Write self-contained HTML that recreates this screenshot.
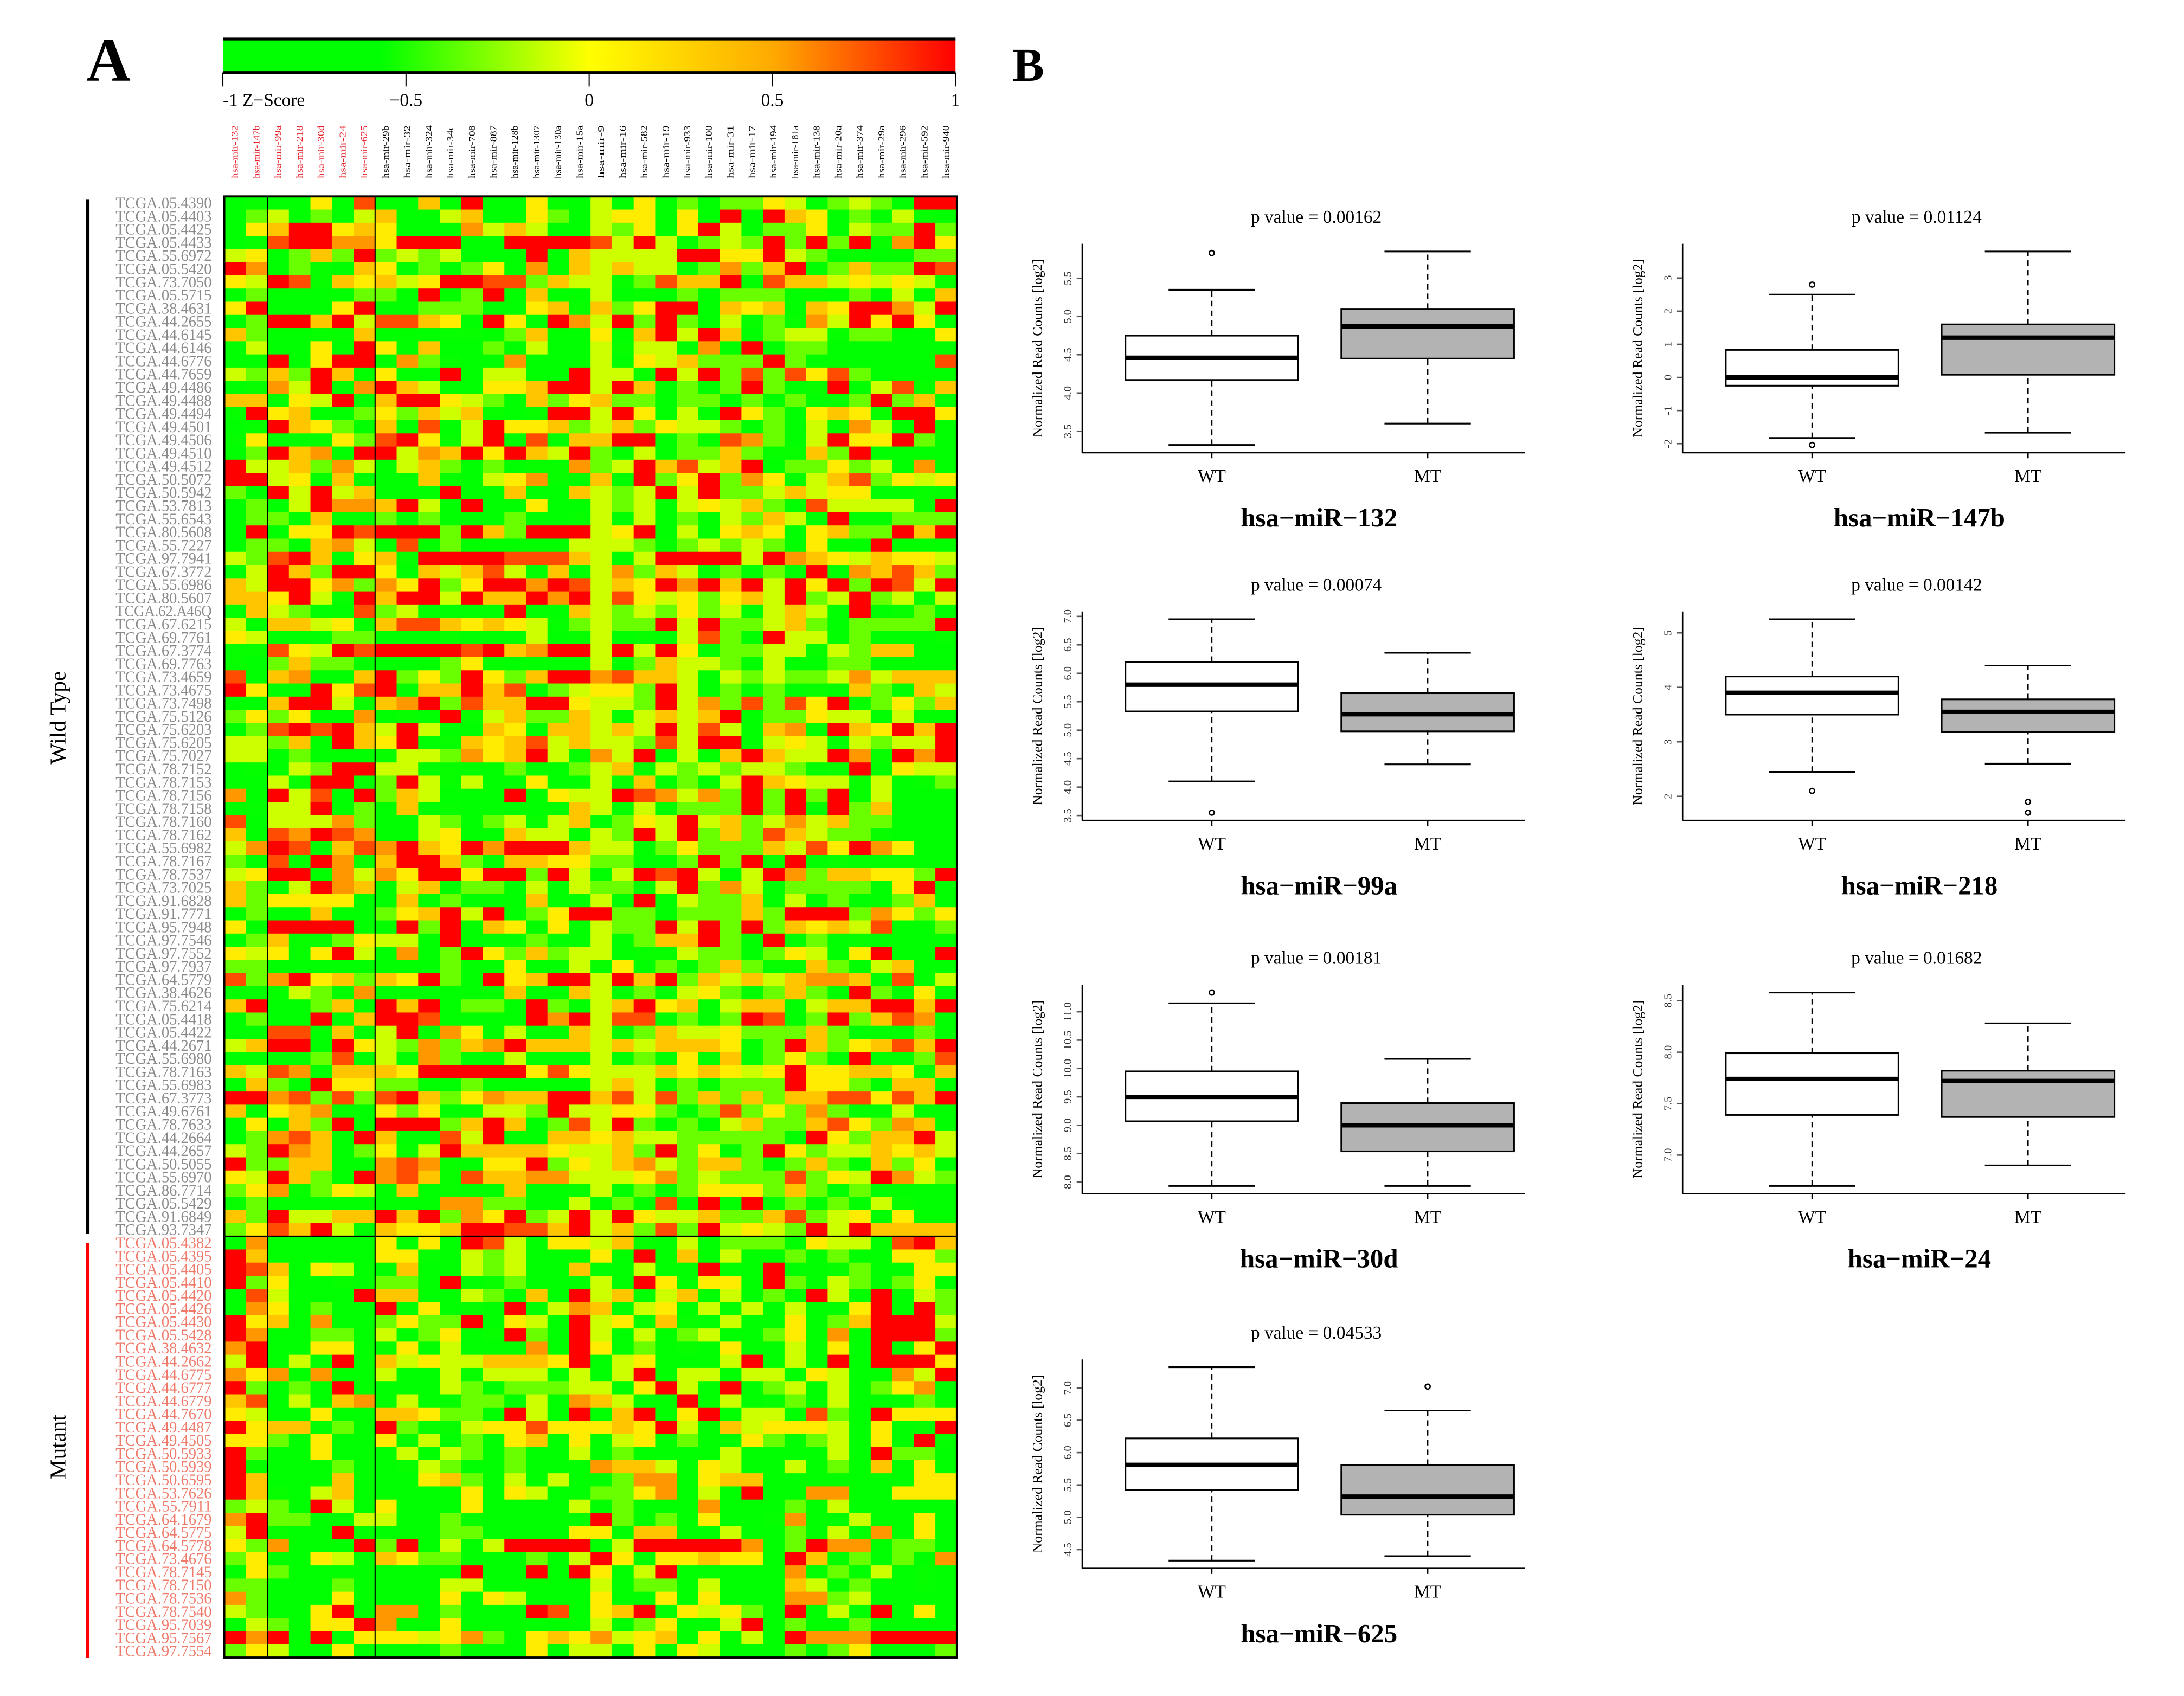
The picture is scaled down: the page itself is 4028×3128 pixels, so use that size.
<!DOCTYPE html>
<html><head><meta charset="utf-8"><style>
html,body{margin:0;padding:0;background:#fff}
svg{display:block;font-family:"Liberation Serif",serif}
</style></head><body>
<svg id="fig" xmlns="http://www.w3.org/2000/svg" width="4028" height="3128" viewBox="0 0 1568 1217.6">
<defs>
<linearGradient id="zg" x1="0" x2="1" y1="0" y2="0">
<stop offset="0" stop-color="#00ff00"/><stop offset="0.215" stop-color="#00ff00"/>
<stop offset="0.5" stop-color="#ffff00"/><stop offset="0.75" stop-color="#ffaa00"/>
<stop offset="1" stop-color="#ff0000"/>
</linearGradient>
</defs>
<rect width="1568" height="1217.6" fill="#fff"/>
<text x="62" y="58" font-size="44" font-weight="bold">A</text>
<text x="727" y="58" font-size="34" font-weight="bold">B</text>
<g id="cbar"></g>
<g id="heat"></g>
<g id="boxes"></g>
</svg>
<script>
const NS="http://www.w3.org/2000/svg";
// ---------- heatmap data ----------
const colLabels=["hsa-mir-132","hsa-mir-147b","hsa-mir-99a","hsa-mir-218","hsa-mir-30d","hsa-mir-24","hsa-mir-625","hsa-mir-29b","hsa-mir-32","hsa-mir-324","hsa-mir-34c","hsa-mir-708","hsa-mir-887","hsa-mir-128b","hsa-mir-1307","hsa-mir-130a","hsa-mir-15a","hsa-mir-9","hsa-mir-16","hsa-mir-582","hsa-mir-19","hsa-mir-933","hsa-mir-100","hsa-mir-31","hsa-mir-17","hsa-mir-194","hsa-mir-181a","hsa-mir-138","hsa-mir-20a","hsa-mir-374","hsa-mir-29a","hsa-mir-296","hsa-mir-592","hsa-mir-940"];
const redCols=7;
const wtLabels=["05.4390","05.4403","05.4425","05.4433","55.6972","05.5420","73.7050","05.5715","38.4631","44.2655","44.6145","44.6146","44.6776","44.7659","49.4486","49.4488","49.4494","49.4501","49.4506","49.4510","49.4512","50.5072","50.5942","53.7813","55.6543","80.5608","55.7227","97.7941","67.3772","55.6986","80.5607","62.A46Q","67.6215","69.7761","67.3774","69.7763","73.4659","73.4675","73.7498","75.5126","75.6203","75.6205","75.7027","78.7152","78.7153","78.7156","78.7158","78.7160","78.7162","55.6982","78.7167","78.7537","73.7025","91.6828","91.7771","95.7948","97.7546","97.7552","97.7937","64.5779","38.4626","75.6214","05.4418","05.4422","44.2671","55.6980","78.7163","55.6983","67.3773","49.6761","78.7633","44.2664","44.2657","50.5055","55.6970","86.7714","05.5429","91.6849","93.7347"];
const mtLabels=["05.4382","05.4395","05.4405","05.4410","05.4420","05.4426","05.4430","05.5428","38.4632","44.2662","44.6775","44.6777","44.6779","44.7670","49.4487","49.4505","50.5933","50.5939","50.6595","53.7626","55.7911","64.1679","64.5775","64.5778","73.4676","78.7145","78.7150","78.7536","78.7540","95.7039","95.7567","97.7554"];
// each char 0..9 -> z = -1 + c*2/9
const wtRows=[
"0200508006090052040503033540343099","0340304600460053045505090965030420","0569956510174640143505940335043393","0289977599910999984942343939392795",
"4503639343400090644449955943020033","9703206513035070646440373690363398","5498265645998836442386690866454542","0300003309139060040203033302130406",
"5900059003330056263599065606599749","0399694886509509749393042327495950","6300226000220360050694960344233005","0410509506103040042440709033010000",
"0090599073201710040546333930100008","4363960510904400944294938385831000","0274907964105569949603039302914826","6605490699543063563303303030239360",
"2956003536462029949504095305652995","0296530608149556346354430304074090","2501053895249081669903087304955930","0396709947695964930403363226390000",
"9446374046303122734968469033534070","9945060006204572060935937504683545",
"3094946000900600643494933464550020","0304977694190050043404546308444429","0330622303100300240403043640900333","0905598999396399945904056505633969",
"0330674080300000444323434305019000","4389605629999888640499994976546554","0496399506468406047364030309076863","6499573759359979846597969495939849",
"6659429699496697948545356493493424","0643008340110900643435340464090230","4166450688656542343394933463033339","5400033100200040240204830944030002",
"2285498999989679949495033442436601","2036330100352110040364430401330000","8067006935395369978664043433474666","9500958906696803455394030302063064",
"0069942679386699544394738385923536","3535007020924633642464691335440410","0389896494016506646494840670965969","4436096590265684644384990454043449",
"4403000244375694274904069644972979","0204399440200300346243434430290544","0042992394240050042603049654424023","7094809364100905449874739393924000",
"0244903060200000640403339392936000","8044473004303424603549463474633000","6087987004500644043949363864332000","4798068796597999644035333648597500",
"3080972699630665533003939290200000",
"4599074759959939404989404973665539","6304976046033040433049374033330590","6355550060300060040904336040300360",
"0300600356949035993303336399937535","5099990093906505043394939365648003","0362235440900030040366930903020000",
"5452594070395363440224330354059009","3300000000300500425030363226304600","8379563659309569949693646467760804",
"0224307100002600640304530363093150","6900360969133093146956046604669969","0300906998000097948803039803936870",
"0088060490750400640364453336300030","4699195437367966646466650396356869","0000380417300400040305060353090038",
"6487066659999958544465654595566506","0630955330130001046403033395530660","9978383896357669968483636366885869",
"6156700535004439445530383537301400","0506390999369603849303046336853760","0378609600849006656443333309536694",
"4397613524966665446393503953446564","9336600787205593546743663036316350","5496309786286677444573433383549743",
"3572354060210600240303555363030000","2300001000773300403080909030304200","6394466969375934949544633683450500",
"3586940655699886946383945439496666"];
const mtRows=[
"0700000505098405546204033305440896","9600000552043400050906040030300553","9860540060043400600400900900230055","9350020330902300040950550930430350",
"0840009660043060946046040309409043","0750300905020904760450404040059093","9560700353390540945062040050369994","9700330403502930940403400350709993",
"7900550250400070950302050040509059","4904090645446665904500049040909995","7570700400424440404904404405400749","9303090000430333440594090340403570",
"6804067040233040764009040230400030","5400500665330940906905904408309555","9566030932245585556594064555405029","5530500524030560504503005303405092",
"9300500040430300403000040000409330","9200030024300300076640540040306050","9600060005630404003770566000000055","9620460000050540033570409007700555",
"3430940500050000403000700030400000","7933004400320000093030500270040050","4920090000330000550660040030407050","5370009390404999904999997039770330",
"3500540653300030495055655096030307","0530000000090090950490000070304020","3300030000440000040330400064030020","7300050000505400050050500077340000",
"4300590770300098056905453090409050","0430559700500000040350049030030000","9790905554573056574560504097779999","3540050000300050440505400030350003"];

// ---------- boxplot data ----------
const geneNames=["hsa\u2212miR\u2212132","hsa\u2212miR\u2212147b","hsa\u2212miR\u221299a","hsa\u2212miR\u2212218","hsa\u2212miR\u221230d","hsa\u2212miR\u221224","hsa\u2212miR\u2212625"];
const pValues=["0.00162","0.01124","0.00074","0.00142","0.00181","0.01682","0.04533"];
const yTicks=[[3.5,4.0,4.5,5.0,5.5],[-2,-1,0,1,2,3],[3.5,4.0,4.5,5.0,5.5,6.0,6.5,7.0],[2,3,4,5],[8.0,8.5,9.0,9.5,10.0,10.5,11.0],[7.0,7.5,8.0,8.5],[4.5,5.0,5.5,6.0,6.5,7.0]];
const yTickLabels=[["3.5","4.0","4.5","5.0","5.5"],["-2","-1","0","1","2","3"],["3.5","4.0","4.5","5.0","5.5","6.0","6.5","7.0"],["2","3","4","5"],["8.0","8.5","9.0","9.5","10.0","10.5","11.0"],["7.0","7.5","8.0","8.5"],["4.5","5.0","5.5","6.0","6.5","7.0"]];
// [lowWhisker, Q1, median, Q3, highWhisker]
const wtStats=[[3.32,4.17,4.46,4.75,5.35],[-1.83,-0.25,0.0,0.83,2.5],[4.1,5.33,5.8,6.2,6.95],[2.45,3.5,3.9,4.2,5.25],[7.93,9.07,9.5,9.95,11.15],[6.7,7.39,7.74,7.99,8.58],[4.33,5.42,5.81,6.22,7.32]];
const mtStats=[[3.6,4.45,4.87,5.1,5.85],[-1.67,0.08,1.2,1.6,3.8],[4.4,4.98,5.28,5.65,6.36],[2.6,3.18,3.55,3.78,4.4],[7.93,8.54,9.0,9.39,10.17],[6.9,7.37,7.72,7.82,8.28],[4.4,5.04,5.32,5.81,6.65]];
const wtOutliers=[[5.83],[2.8,-2.04],[3.55],[2.1],[11.34],[],[]];
const mtOutliers=[[],[],[],[1.9,1.7],[],[],[7.02]];

function el(tag,attrs,parent,text){const e=document.createElementNS(NS,tag);for(const k in attrs)e.setAttribute(k,attrs[k]);if(text!==undefined)e.textContent=text;parent.appendChild(e);return e;}

// ---------- color key ----------
(function(){
 const g=document.getElementById('cbar');const x0=160,x1=686,y0=28,y1=52;
 const r=el('rect',{x:x0,y:y0,width:x1-x0,height:y1-y0,fill:'url(#zg)'},g);
 
 el('line',{x1:x0,x2:x1,y1:y0,y2:y0,stroke:'#000','stroke-width':2},g);
 el('line',{x1:x0,x2:x1,y1:y1,y2:y1,stroke:'#000','stroke-width':2},g);
 const kt=[-1,-0.5,0,0.5,1],kl=["-1","\u22120.5","0","0.5","1"];
 kt.forEach((v,i)=>{const x=x0+(v+1)/2*(x1-x0);
  el('line',{x1:x,x2:x,y1:y1,y2:y1+10,stroke:'#000','stroke-width':0.8},g);
  const t=el('text',{x:x,y:76,'font-size':13,'text-anchor':i==0?'start':'middle'},g,kl[i]);
  
 });
 const zt=el('text',{x:174,y:76,'font-size':13},g,"Z\u2212Score");
 
})();

// ---------- heatmap ----------
function zColor(z){
 function mix(a,b,t){return a.map((v,i)=>Math.round(v+(b[i]-v)*t));}
 let c;
 if(z<=-0.57)c=[0,255,0];
 else if(z<=0)c=mix([0,255,0],[255,255,0],(z+0.57)/0.57);
 else if(z<=0.5)c=mix([255,255,0],[255,170,0],z/0.5);
 else c=mix([255,170,0],[255,0,0],(z-0.5)/0.5);
 return 'rgb('+c.join(',')+')';
}
(function(){
 const g=document.getElementById('heat');
 const X0=161,X1=687,Y0=141,Y1=1190;
 const rows=wtRows.concat(mtRows),nR=rows.length,nC=colLabels.length;
 const cw=(X1-X0)/nC,rh=(Y1-Y0)/nR;
 const xS=c=>X0+c*cw,yS=r=>Y0+r*rh;
 rows.forEach((s,r)=>{for(let c=0;c<nC;c++){const ch=s.charCodeAt(c)-48;const v=(ch>=0&&ch<=9)?ch:4;const z=-1+v*2/9;
  const rc=el('rect',{x:xS(c).toFixed(2),y:yS(r).toFixed(2),width:(cw+0.4).toFixed(2),height:(rh+0.4).toFixed(2),fill:zColor(z)},g);
  }});
 el('rect',{x:X0,y:Y0,width:X1-X0,height:Y1-Y0,fill:'none',stroke:'#000','stroke-width':1.5},g);
 const yd=yS(wtRows.length);
 el('line',{x1:X0,x2:X1,y1:yd,y2:yd,stroke:'#000','stroke-width':1},g);
 [2,redCols].forEach(c=>el('line',{x1:xS(c),x2:xS(c),y1:Y0,y2:Y1,stroke:'#000','stroke-width':0.8},g));
 colLabels.forEach((l,c)=>{const x=xS(c)+cw/2+2;
  const t=el('text',{x:x,y:128,'font-size':6.5,fill:c<redCols?'#e8202a':'#000',transform:'rotate(-90 '+x+' 128)',textLength:38,lengthAdjust:'spacingAndGlyphs'},g,l);
  });
 const labs=wtLabels.slice(0,wtRows.length).map(s=>[s,'#8a8a8a']).concat(mtLabels.slice(0,mtRows.length).map(s=>[s,'#f07a6a']));
 labs.forEach((p,r)=>{const t=el('text',{x:83,y:(yS(r)+rh*0.9).toFixed(2),'font-size':11.5,fill:p[1],textLength:69,lengthAdjust:'spacingAndGlyphs'},g,'TCGA.'+p[0]);
  });
 const b1=el('line',{x1:63,x2:63,y1:143,y2:yd-2,stroke:'#000','stroke-width':2.5},g);
 
 const b2=el('line',{x1:63,x2:63,y1:yd+5,y2:Y1,stroke:'#ff0000','stroke-width':2.5},g);
 
 const t1=el('text',{x:47,y:(143+yd)/2,'font-size':16,'text-anchor':'middle',transform:'rotate(-90 47 '+(143+yd)/2+')'},g,'Wild Type');
 
 const t2=el('text',{x:47,y:(yd+Y1)/2,'font-size':16,'text-anchor':'middle',transform:'rotate(-90 47 '+(yd+Y1)/2+')'},g,'Mutant');
 
})();

// ---------- boxplots ----------
(function(){
 const root=document.getElementById('boxes');
 const colX=[777,1208],rowB=[325,589,857,1126],H=150,W=318;
 geneNames.forEach((name,i)=>{
  const x0=colX[i%2],yb=rowB[Math.floor(i/2)],yt=yb-H;
  const g=el('g',{},root);
  const all=wtStats[i].concat(mtStats[i],wtOutliers[i],mtOutliers[i]);
  let lo=Math.min(...all),hi=Math.max(...all);const pad=(hi-lo)*0.04;lo-=pad;hi+=pad;
  const yS=v=>yb-(v-lo)/(hi-lo)*H;
  el('line',{x1:x0,x2:x0,y1:yt,y2:yb,stroke:'#000','stroke-width':1},g);
  el('line',{x1:x0,x2:x0+W,y1:yb,y2:yb,stroke:'#000','stroke-width':1},g);
  yTicks[i].forEach((v,j)=>{const y=yS(v);if(y<yt-1||y>yb+1)return;
   el('line',{x1:x0-4,x2:x0,y1:y,y2:y,stroke:'#555','stroke-width':1},g);
   const t=el('text',{x:x0-8,y:y,'font-size':8,'text-anchor':'middle',fill:'#333',transform:'rotate(-90 '+(x0-8)+' '+y+')'},g,yTickLabels[i][j]);
   });
  const yl=el('text',{x:x0-29,y:yt+H/2,'font-size':10,'text-anchor':'middle',transform:'rotate(-90 '+(x0-29)+' '+(yt+H/2)+')'},g,'Normalized Read Counts [log2]');
  
  const pt=el('text',{x:x0+168,y:yb-165,'font-size':13,'text-anchor':'middle'},g,'p value = '+pValues[i]);
  
  const nt=el('text',{x:x0+170,y:yb+53,'font-size':19,'font-weight':'bold','text-anchor':'middle'},g,name);
  
  [[wtStats[i],wtOutliers[i],'#ffffff','WT',x0+93],[mtStats[i],mtOutliers[i],'#b3b3b3','MT',x0+248]].forEach(b=>{
   const s=b[0],cx=b[4],hw=62;
   el('line',{x1:cx,x2:cx,y1:yb,y2:yb+4,stroke:'#000','stroke-width':1},g);
   const xl=el('text',{x:cx,y:yb+21,'font-size':13,'text-anchor':'middle'},g,b[3]);
   
   el('line',{x1:cx,x2:cx,y1:yS(s[0]),y2:yS(s[1]),stroke:'#000','stroke-width':1,'stroke-dasharray':'4,3'},g);
   el('line',{x1:cx,x2:cx,y1:yS(s[3]),y2:yS(s[4]),stroke:'#000','stroke-width':1,'stroke-dasharray':'4,3'},g);
   el('line',{x1:cx-hw/2,x2:cx+hw/2,y1:yS(s[0]),y2:yS(s[0]),stroke:'#000','stroke-width':1.2},g);
   el('line',{x1:cx-hw/2,x2:cx+hw/2,y1:yS(s[4]),y2:yS(s[4]),stroke:'#000','stroke-width':1.2},g);
   const bx=el('rect',{x:cx-hw,y:yS(s[3]),width:2*hw,height:yS(s[1])-yS(s[3]),fill:b[2],stroke:'#000','stroke-width':1.2},g);
   
   el('line',{x1:cx-hw,x2:cx+hw,y1:yS(s[2]),y2:yS(s[2]),stroke:'#000','stroke-width':3.2},g);
   b[1].forEach(o=>{const c=el('circle',{cx:cx,cy:yS(o),r:1.8,fill:'none',stroke:'#000','stroke-width':1},g);
    });
  });
 });
})();
</script>
</body></html>
